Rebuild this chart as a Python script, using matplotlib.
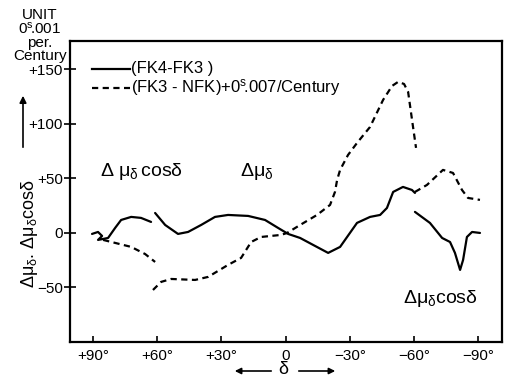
import numpy as np
import matplotlib
matplotlib.use("Agg")
import matplotlib.pyplot as plt
from matplotlib import rcParams

rcParams.update({'font.family': 'Liberation Sans', 'font.size': 11,
                 'mathtext.fontset': 'custom',
                 'mathtext.rm': 'Liberation Sans',
                 'mathtext.it': 'Liberation Sans',
                 'mathtext.sf': 'Liberation Sans'})

# (FK4 - FK3), three pieces, declination in degrees
fk4_x1 = [90.5, 87.7, 85.8, 87.7, 85.3, 83.0, 79.7, 76.9, 72.2, 67.6, 62.9]
fk4_y1 = [-0.9, 0.9, -2.75, -6.4, -5.5, -4.6, 4.6, 11.9, 14.7, 13.8, 10.1]
fk4_x2 = [61.0, 56.3, 50.3, 45.6, 39.5, 33.0, 26.9, 17.5, 9.6, 3.5, -1.2,
          -6.8, -12.9, -19.9, -25.5, -33.4, -39.5, -44.2, -47.4, -50.3,
          -54.9, -59.1, -60.5]
fk4_y2 = [18.3, 7.3, -0.9, 0.9, 7.3, 14.7, 16.5, 15.6, 11.9, 4.6, -0.9,
          -4.6, -11.0, -18.3, -12.8, 9.2, 14.7, 16.5, 22.9, 37.6,
          42.2, 39.4, 36.7]
fk4_x3 = [-60.5, -67.5, -73.2, -76.9, -79.2, -81.6, -83.0, -84.8, -87.2, -90.9]
fk4_y3 = [19.3, 9.2, -4.6, -8.3, -18.3, -33.9, -24.8, -3.7, 0.9, 0.0]

# (FK3 - NFK) + 0s.007/century
nfk_x1 = [85.3, 72.2, 65.7, 61.0]
nfk_y1 = [-6.4, -12.8, -19.3, -26.6]
nfk_x2 = [62.0, 58.2, 53.5, 42.3, 36.2, 26.9, 20.8, 16.1, 11.5, 2.1, -0.7,
          -6.8, -14.7, -20.8, -23.1, -24.1, -25.5, -29.2, -33.4, -39.5,
          -45.6, -49.8, -52.6, -55.4, -57.3, -59.6, -61.0]
nfk_y2 = [-52.3, -44.9, -42.2, -43.1, -40.3, -29.3, -22.9, -8.3, -3.7, -1.8,
          0.0, 7.3, 16.5, 25.7, 37.6, 48.6, 57.8, 71.5, 82.5, 97.2,
          122.0, 134.8, 138.5, 136.6, 129.3, 97.2, 78.0]
nfk_x3 = [-60.5, -66.1, -73.6, -78.3, -82.5, -85.3, -90.9]
nfk_y3 = [37.6, 44.0, 57.8, 55.0, 39.4, 32.1, 30.3]

x_ticks = [90, 60, 30, 0, -30, -60, -90]
x_labels = ['+90°', '+60°', '+30°', '0', '\u221230°', '\u221260°', '\u221290°']
y_ticks = [150, 100, 50, 0, -50]
y_labels = ['+150', '+100', '+50', '0', '\u221250']

fig = plt.figure(figsize=(5.12, 3.8), dpi=100)
ax = fig.add_axes([70 / 512, 1 - 342 / 380, 432 / 512, 301 / 380])

lw = 1.6
for xs, ys in [(fk4_x1, fk4_y1), (fk4_x2, fk4_y2), (fk4_x3, fk4_y3)]:
    ax.plot(xs, ys, color='black', lw=lw, solid_capstyle='round',
            solid_joinstyle='round')
for xs, ys in [(nfk_x1, nfk_y1), (nfk_x2, nfk_y2), (nfk_x3, nfk_y3)]:
    ax.plot(xs, ys, color='black', lw=lw, dashes=(2.8, 2.0),
            dash_joinstyle='round')

ax.set_xlim(100.8, -101.2)
ax.set_ylim(-100, 176)
ax.set_xticks(x_ticks)
ax.set_xticklabels(x_labels)
ax.set_yticks(y_ticks)
ax.set_yticklabels(y_labels)
ax.tick_params(axis='x', direction='in', length=4, width=1.2, pad=5)
ax.tick_params(axis='y', direction='inout', length=8, width=1.2, pad=1)
for s in ax.spines.values():
    s.set_linewidth(1.6)

# annotations inside the plot
ax.text(86.7, 56, r'$\Delta\ \mu_\delta\,$cos$\delta$', fontsize=14, va='center')
ax.text(21.3, 56, r'$\Delta\mu_\delta$', fontsize=14, va='center')
ax.text(-55, -60, r'$\Delta\mu_\delta$cos$\delta$', fontsize=14, va='center')

# legend drawn by hand
ax.plot([90.5, 72.7], [150.4, 150.4], color='black', lw=lw, clip_on=False)
ax.plot([90.5, 72.7], [133, 133], color='black', lw=lw, dashes=(2.8, 2.0), clip_on=False)
ax.text(72.2, 150.4, '(FK4-FK3 )', fontsize=12, va='center')
ax.text(72.2, 133, r'(FK3 - NFK)+0$^{\rm s}\!$.007/Century', fontsize=12, va='center')

# unit block, arrow and y label
for txt, yp in [('UNIT', 15), (r'0$^{\rm s}\!$.001', 29), ('per.', 43), ('Century', 56)]:
    fig.text(40 / 512, 1 - yp / 380, txt, fontsize=11, ha='center', va='center')
fig.add_artist(matplotlib.patches.FancyArrowPatch(
    (23 / 512, 1 - 150 / 380), (23 / 512, 1 - 93 / 380),
    transform=fig.transFigure, arrowstyle='-|>', mutation_scale=10,
    color='black', lw=1.2))
fig.text(30 / 512, 1 - 233 / 380, r'$\Delta\mu_\delta$. $\Delta\mu_\delta$cos$\delta$',
         rotation=90, fontsize=13, ha='center', va='center')

# delta with arrows under the x axis
fig.text(284 / 512, 1 - 370 / 380, r'$\delta$', fontsize=13, ha='center', va='center')
fig.add_artist(matplotlib.patches.FancyArrowPatch(
    (274 / 512, 1 - 371 / 380), (232 / 512, 1 - 371 / 380),
    transform=fig.transFigure, arrowstyle='-|>', mutation_scale=9,
    color='black', lw=1.2))
fig.add_artist(matplotlib.patches.FancyArrowPatch(
    (296 / 512, 1 - 371 / 380), (338 / 512, 1 - 371 / 380),
    transform=fig.transFigure, arrowstyle='-|>', mutation_scale=9,
    color='black', lw=1.2))

plt.savefig('out.png', dpi=100)
